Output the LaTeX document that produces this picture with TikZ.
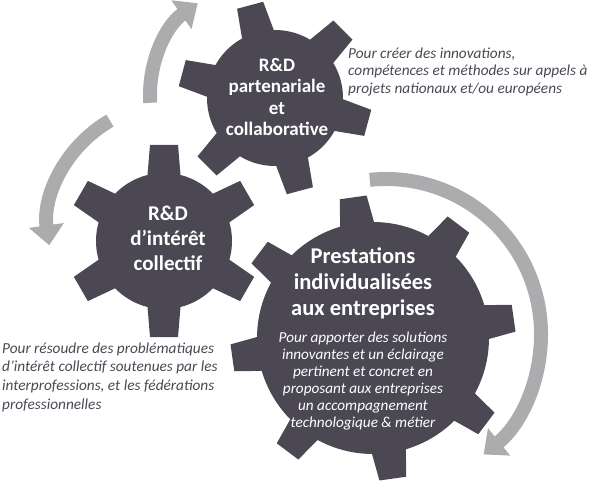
\documentclass[tikz,border=0pt]{standalone}
\usepackage{fontspec}
\setmainfont{Carlito}
\usetikzlibrary{arrows.meta}
\definecolor{gearc}{RGB}{75,72,84}
\definecolor{arrowc}{RGB}{172,172,175}
\newcommand{\gearshape}[8]{%
  \fill[gearc] (#1,#2) circle[radius=#3];
  \foreach \k in {1,...,#5}{%
    \fill[gearc,shift={(#1,#2)},rotate={#6+360/#5*\k}]
      ({#3-8},-#7) -- (#4,-#8) -- (#4,#8) -- ({#3-8},#7) -- cycle;}}
\tikzset{
  cyclearrow/.style={draw=arrowc,line width=14pt,-{Triangle[width=34pt,length=20pt]}},
  geartitle/.style={text=white,align=center,font=\bfseries},
  note/.style={text=gearc,align=left,font=\itshape\fontsize{15.3}{17.5}\selectfont,inner sep=0pt}
}
\begin{document}
\begin{tikzpicture}[x=1pt,y=1pt]
\useasboundingbox (0,0) rectangle (592,-484);
% arrows
\coordinate (c1) at (262,-95);
\coordinate (c2) at (172,-228);
\coordinate (c3) at (386,-334);
\draw[cyclearrow] ([shift={(184:112)}]c1) arc[start angle=184,end angle=125,radius=112];
\draw[cyclearrow] ([shift={(120:124)}]c2) arc[start angle=120,end angle=188,radius=124];
\draw[cyclearrow] ([shift={(96:155)}]c3) arc[start angle=96,end angle=-51,radius=155];
% gears
\gearshape{275}{-98}{68}{96}{6}{45}{17}{13.5}
\gearshape{164}{-241}{68}{96}{6}{90}{17}{14}
\gearshape{373}{-338}{116}{142}{8}{8}{18}{13.5}
% texts
\node[geartitle,font=\bfseries\fontsize{19}{21.3}\selectfont] (t1) at (277,-97)
  {R\&D\\partenariale\\et\\collaborative};
\node[geartitle,font=\bfseries\fontsize{21}{25}\selectfont] (t2) at (168,-238)
  {R\&D\\d’intérêt\\collectif};
\node[geartitle,font=\bfseries\fontsize{22.5}{26}\selectfont] (t3) at (363,-283)
  {Prestations\\individualisées\\aux entreprises};
\node[text=white,align=center,font=\itshape\fontsize{15.2}{17}\selectfont] (d3) at (363,-381.5)
  {Pour apporter des solutions\\innovantes et un éclairage\\pertinent et concret en\\proposant aux entreprises\\un accompagnement\\technologique \& métier};
\node[note,anchor=west] (n1) at (348,-72)
  {Pour créer des innovations,\\compétences et méthodes sur appels à\\projets nationaux et/ou européens};
\node[note,anchor=west,font=\itshape\fontsize{15.3}{18.7}\selectfont] (n2) at (2,-377)
  {Pour résoudre des problématiques\\d’intérêt collectif soutenues par les\\interprofessions, et les fédérations\\professionnelles};
\end{tikzpicture}
\end{document}
